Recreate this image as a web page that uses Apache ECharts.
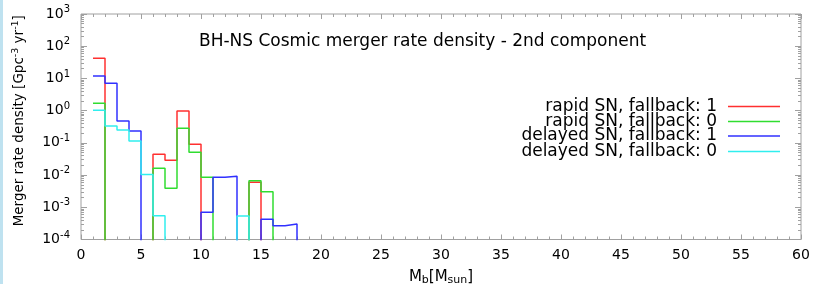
<!DOCTYPE html>
<html>
<head>
<meta charset="utf-8">
<script src="https://cdn.jsdelivr.net/npm/echarts@6/dist/echarts.min.js"></script>
<style>
html,body{margin:0;padding:0;background:#fff;}
#chart{width:817px;height:284px;}
</style>
</head>
<body>
<div id="chart"></div>
<script>
// Bin left edges (bins are 1 Msun wide: [1,2], [2,3], ... [17,18])
const binEdges = [1,2,3,4,5,6,7,8,9,10,11,12,13,14,15,16,17];
const lastEdge = 18;
// Merger rate density per bin (0 = empty bin)
const rapidFb1   = [42.2, 0, 0, 0, 0, 0.044, 0.0287, 0.975, 0.090, 0, 0, 0, 0, 0.00596, 0, 0, 0];
const rapidFb0   = [1.69, 0, 0, 0, 0, 0.0162, 0.00388, 0.283, 0.0508, 0.0085, 0, 0, 0, 0.00668, 0.00304, 0, 0];
const delayedFb1 = [11.9, 7.05, 0.476, 0.233, 0, 0, 0, 0, 0, 0.000697, 0.0085, 0.00915, 0, 0, 0.000423, 0.000268, 0.000302];
const delayedFb0 = [1.02, 0.333, 0.251, 0.114, 0.0105, 0.000547, 0, 0, 0, 0, 0, 0, 0.000535, 0, 0, 0, 0];

const seriesNames = ['rapid SN, fallback: 1', 'rapid SN, fallback: 0', 'delayed SN, fallback: 1', 'delayed SN, fallback: 0'];
const seriesColors = ['#ff3030', '#30dd30', '#3030ff', '#30eeee'];
const seriesValues = [rapidFb1, rapidFb0, delayedFb1, delayedFb0];

const xMin = 0, xMax = 60, xInterval = 5;
const yMin = 1e-4, yMax = 1e3;
const titleText = 'BH-NS Cosmic merger rate density - 2nd component';

const EMPTY = 1e-8; // below the axis minimum: empty bins fall off the plot
function stepData(vals) {
  const pts = binEdges.map((e, i) => [e, vals[i] > 0 ? vals[i] : EMPTY]);
  pts.push([lastEdge, EMPTY]);
  return pts;
}

const minorLogTicks = [];
for (let d = -4; d < 3; d++) for (let k = 2; k <= 9; k++) minorLogTicks.push(+(k * Math.pow(10, d)).toPrecision(3));

const gray = '#a0a0a0';
const font = 'DejaVu Sans';

function yAx(position, withLabels, minor) {
  return {
    type: 'log', logBase: 10, min: yMin, max: yMax, position: position,
    splitNumber: 7,
    axisLine: { show: false },
    splitLine: { show: false },
    axisTick: minor
      ? { show: true, inside: true, length: 3, lineStyle: { color: gray }, customValues: minorLogTicks }
      : { show: true, inside: true, length: 6, lineStyle: { color: gray } },
    axisLabel: withLabels ? {
      show: true, margin: 11,
      formatter: function (v) {
        const e = Math.round(Math.log10(v));
        return '{b|10}{s|' + e + '}';
      },
      rich: {
        b: { fontFamily: font, fontSize: 14, color: '#000' },
        s: { fontFamily: font, fontSize: 10, color: '#000', padding: [0, 0, 9, 0] }
      }
    } : { show: false },
    name: withLabels ? '{t|Merger rate density [Gpc}{s|-3}{t| yr}{s|-1}{t|]}' : '',
    nameLocation: 'middle', nameGap: 53,
    nameTextStyle: {
      padding: [0, 0, 0, 12],
      rich: {
        t: { fontFamily: font, fontSize: 13.5, color: '#000' },
        s: { fontFamily: font, fontSize: 9.5, color: '#000', padding: [0, 0, 7, 0] }
      }
    }
  };
}

function xAx(position, withLabels) {
  return {
    type: 'value', min: xMin, max: xMax, interval: xInterval, position: position,
    axisLine: { show: false },
    splitLine: { show: false },
    axisTick: { show: true, inside: true, length: 5, lineStyle: { color: gray } },
    minorTick: { show: true, splitNumber: 5, length: 3, lineStyle: { color: gray } },
    axisLabel: withLabels ? { show: true, margin: 9, fontFamily: font, fontSize: 14, color: '#000' } : { show: false },
    name: withLabels ? '{t|M}{s|b}{t|[M}{s|sun}{t|]}' : '',
    nameLocation: 'middle', nameGap: 29,
    nameTextStyle: {
      rich: {
        t: { fontFamily: font, fontSize: 15, color: '#000' },
        s: { fontFamily: font, fontSize: 11, color: '#000', padding: [6, 0, 0, 0] }
      }
    }
  };
}

const legendRowsTop = [98, 113, 127.5, 143];
const legends = seriesNames.map((n, i) => ({
  data: [n], right: 37, top: legendRowsTop[i], padding: 0, orient: 'horizontal', align: 'right',
  icon: 'rect', itemWidth: 52, itemHeight: 1.5, selectedMode: false,
  textStyle: { fontFamily: font, fontSize: 17, color: '#000', padding: [0, 6, 0, 0] }
}));

const chart = echarts.init(document.getElementById('chart'), null, { renderer: 'canvas' });
chart.setOption({
  animation: false,
  backgroundColor: '#fff',
  title: {
    text: titleText, left: 194, top: 28,
    textStyle: { fontFamily: font, fontSize: 17, fontWeight: 'normal', color: '#000' }
  },
  legend: legends,
  grid: { left: 81, right: 16, top: 14, bottom: 44.5, outerBoundsMode: 'none', containLabel: false,
          show: true, borderColor: gray, borderWidth: 1, backgroundColor: 'transparent' },
  xAxis: [xAx('bottom', true), xAx('top', false)],
  yAxis: [yAx('left', true, false), yAx('left', false, true), yAx('right', false, false), yAx('right', false, true)],
  graphic: [{ type: 'rect', left: 0, top: 0, shape: { width: 3, height: 284 }, style: { fill: '#bfe2f0' }, silent: true }],
  series: seriesNames.map((n, i) => ({
    name: n, type: 'line', step: 'end', xAxisIndex: 0, yAxisIndex: 0,
    data: stepData(seriesValues[i]), showSymbol: false, symbol: 'none', clip: true,
    color: seriesColors[i],
    lineStyle: { color: seriesColors[i], width: 1.5 }
  }))
});
</script>
</body>
</html>
